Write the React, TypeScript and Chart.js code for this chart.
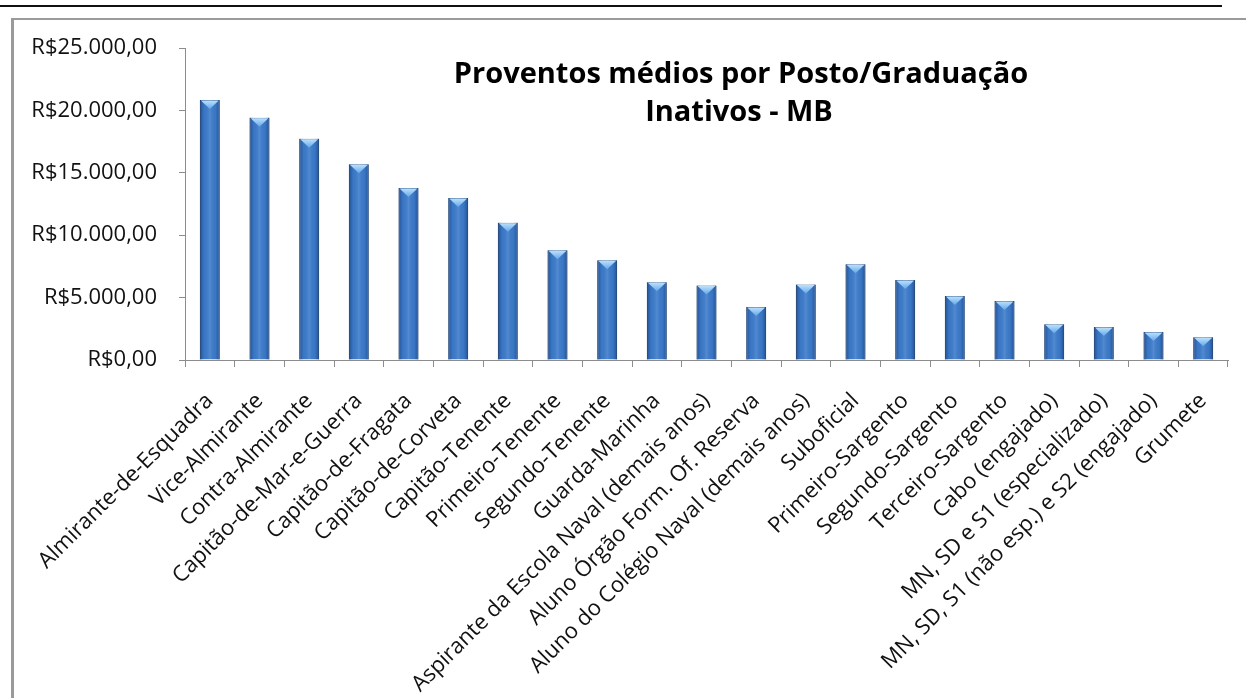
import React, { useEffect, useRef } from 'react';
import { Chart, registerables } from 'chart.js';

Chart.register(...registerables);

const categories = [
  'Almirante-de-Esquadra',
  'Vice-Almirante',
  'Contra-Almirante',
  'Capitão-de-Mar-e-Guerra',
  'Capitão-de-Fragata',
  'Capitão-de-Corveta',
  'Capitão-Tenente',
  'Primeiro-Tenente',
  'Segundo-Tenente',
  'Guarda-Marinha',
  'Aspirante da Escola Naval (demais anos)',
  'Aluno Órgão Form. Of. Reserva',
  'Aluno do Colégio Naval (demais anos)',
  'Suboficial',
  'Primeiro-Sargento',
  'Segundo-Sargento',
  'Terceiro-Sargento',
  'Cabo (engajado)',
  'MN, SD e S1 (especializado)',
  'MN, SD, S1 (não esp.) e S2 (engajado)',
  'Grumete',
];

const values = [
  20830, 19420, 17730, 15680, 13780, 12980, 11000, 8790, 7990, 6230, 5960,
  4250, 6040, 7670, 6410, 5130, 4730, 2860, 2640, 2240, 1820,
];

const yMin = 0;
const yMax = 25000;
const yStep = 5000;

const titleLines = ['Proventos médios por Posto/Graduação', 'Inativos - MB'];

function formatBRL(v: number): string {
  const [intPart, dec] = v.toFixed(2).split('.');
  const withDots = intPart.replace(/\B(?=(\d{3})+(?!\d))/g, '.');
  return 'R$' + withDots + ',' + dec;
}

const FONT = '"Open Sans", "Noto Sans", sans-serif';

const barStylePlugin = {
  id: 'barStyle',
  afterDatasetsDraw(chart: any) {
    const ctx = chart.ctx as CanvasRenderingContext2D;
    const meta = chart.getDatasetMeta(0);
    ctx.save();
    meta.data.forEach((el: any) => {
      const { x, y, base, width } = el.getProps(['x', 'y', 'base', 'width'], true);
      const left = x - width / 2;
      const right = x + width / 2;
      const h = base - y;
      const g = ctx.createLinearGradient(left, 0, right, 0);
      g.addColorStop(0, 'rgba(10,35,80,0.45)');
      g.addColorStop(0.22, 'rgba(10,35,80,0.03)');
      g.addColorStop(0.5, 'rgba(255,255,255,0.12)');
      g.addColorStop(0.78, 'rgba(10,35,80,0.03)');
      g.addColorStop(1, 'rgba(10,35,80,0.45)');
      ctx.fillStyle = g;
      ctx.fillRect(left, y, width, h);
      const bev = Math.min(9, h * 0.6);
      const tg = ctx.createLinearGradient(0, y, 0, y + bev);
      tg.addColorStop(0, '#c2e3fd');
      tg.addColorStop(1, '#62a8ea');
      ctx.fillStyle = tg;
      ctx.beginPath();
      ctx.moveTo(left + 1, y + 0.5);
      ctx.lineTo(right - 1, y + 0.5);
      ctx.lineTo(x, y + bev);
      ctx.closePath();
      ctx.fill();
    });
    ctx.restore();
  },
};

const titlePlugin = {
  id: 'customTitle',
  afterDraw(chart: any) {
    const ctx = chart.ctx as CanvasRenderingContext2D;
    ctx.save();
    ctx.font = 'bold 29px ' + FONT;
    ctx.fillStyle = '#000000';
    ctx.textAlign = 'center';
    ctx.textBaseline = 'middle';
    ctx.fillText(titleLines[0], 741, 75);
    ctx.fillText(titleLines[1], 739, 113);
    ctx.restore();
  },
};

export default function App() {
  const canvasRef = useRef<HTMLCanvasElement | null>(null);

  useEffect(() => {
    let chart: Chart | null = null;
    let cancelled = false;
    const make = () => {
      if (cancelled || !canvasRef.current) return;
      chart = new Chart(canvasRef.current, {
        type: 'bar',
        data: {
          labels: categories,
          datasets: [
            {
              data: values,
              backgroundColor: '#3b7aca',
              borderColor: '#2a5894',
              borderWidth: 1,
              categoryPercentage: 1,
              barPercentage: 0.4,
            },
          ],
        },
        options: {
          responsive: false,
          animation: false,
          devicePixelRatio: 1,
          layout: { padding: { top: 48, right: 18, left: 0, bottom: 0 } },
          plugins: {
            legend: { display: false },
            title: { display: false },
            tooltip: { enabled: false },
          },
          scales: {
            x: {
              offset: true,
              grid: {
                display: true,
                drawOnChartArea: false,
                drawTicks: true,
                tickLength: 7,
                color: '#8c8c8c',
                offset: true,
              },
              border: { display: true, color: '#8c8c8c', width: 1 },
              ticks: {
                autoSkip: false,
                maxRotation: 45,
                minRotation: 45,
                padding: 21,
                color: '#111111',
                font: { family: FONT, size: 22 },
              },
              afterFit: (scale: any) => {
                scale.height = 338;
              },
            },
            y: {
              min: yMin,
              max: yMax,
              grid: {
                display: true,
                drawOnChartArea: false,
                drawTicks: true,
                tickLength: 6,
                color: '#8c8c8c',
              },
              border: { display: true, color: '#8c8c8c', width: 1 },
              ticks: {
                stepSize: yStep,
                padding: 22,
                color: '#111111',
                font: { family: FONT, size: 22 },
                callback: (v: any) => formatBRL(Number(v)),
              },
              afterFit: (scale: any) => {
                scale.width = 185;
              },
            },
          },
        },
        plugins: [barStylePlugin, titlePlugin],
      });
    };
    const fontsReady = (document as any).fonts
      ? Promise.all([
          (document as any).fonts.load('22px "Open Sans"'),
          (document as any).fonts.load('bold 29px "Open Sans"'),
        ]).catch(() => null)
      : Promise.resolve(null);
    fontsReady.then(make);
    return () => {
      cancelled = true;
      if (chart) chart.destroy();
    };
  }, []);

  return (
    <div
      style={{
        position: 'fixed',
        left: 0,
        top: 0,
        width: 1246,
        height: 698,
        overflow: 'hidden',
        background: '#ffffff',
      }}
    >
      <div
        style={{
          position: 'absolute',
          left: 0,
          top: 5,
          width: 1222,
          height: 2,
          background: '#111111',
        }}
      />
      <div
        style={{
          position: 'absolute',
          left: 11,
          top: 18,
          width: 1300,
          height: 720,
          borderLeft: '3px solid #9a9a9a',
          borderTop: '2px solid #9a9a9a',
        }}
      />
      <canvas
        ref={canvasRef}
        width={1246}
        height={698}
        style={{ position: 'absolute', left: 0, top: 0, width: 1246, height: 698 }}
      />
    </div>
  );
}
